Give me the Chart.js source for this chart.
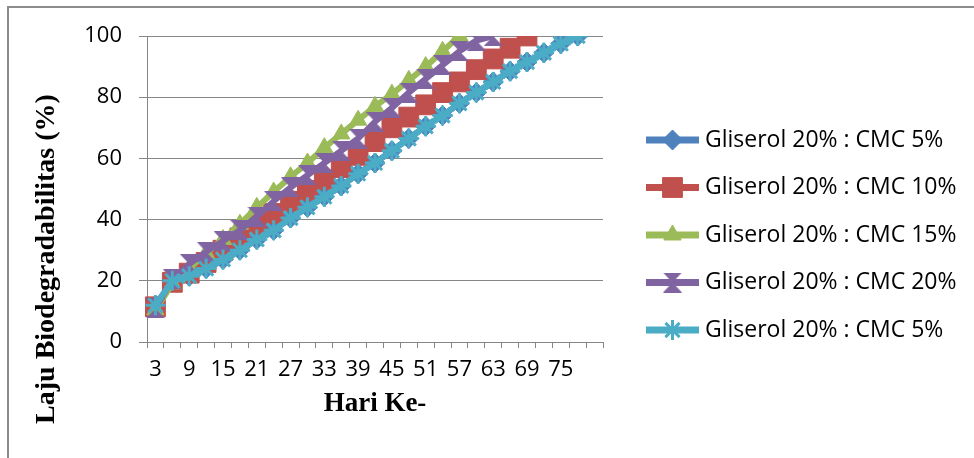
<!DOCTYPE html>
<html>
<head>
<meta charset="utf-8">
<script src="https://cdn.jsdelivr.net/npm/chart.js"></script>
<style>
  html, body { margin: 0; padding: 0; background: #fff; }
  #wrap { position: relative; width: 974px; height: 458px; }
</style>
</head>
<body>
<div id="wrap"><canvas id="c" width="974" height="458"></canvas></div>
<script>
// ---- data ----
const days = [3, 6, 9, 12, 15, 18, 21, 24, 27, 30, 33, 36, 39, 42, 45, 48, 51, 54, 57, 60, 63, 66, 69, 72, 75, 78, ''];
const tickLabelsShown = ['3', '9', '15', '21', '27', '33', '39', '45', '51', '57', '63', '69', '75'];
const seriesNames = [
  'Gliserol 20% : CMC 5%',
  'Gliserol 20% : CMC 10%',
  'Gliserol 20% : CMC 15%',
  'Gliserol 20% : CMC 20%',
  'Gliserol 20% : CMC 5%'
];
const cmc5a  = [12, 20, 21.5, 24, 27, 30, 33.5, 36.5, 40.5, 44, 47.5, 51, 55, 58.5, 62.5, 66.5, 70.5, 74, 78, 81.5, 85, 88.5, 91.5, 94.5, 97.5, 100];
const cmc10  = [11.5, 19.5, 22.5, 26, 30, 34, 38.5, 42, 46, 49.5, 53, 57, 61, 65.5, 70, 73.5, 77.5, 81.5, 85, 89, 92.5, 96, 100];
const cmc15  = [10.5, 19, 24, 29, 33.5, 38.5, 44, 49, 54, 58.5, 63.5, 68, 72.5, 77, 81, 85.5, 90, 95, 100];
const cmc20  = [11, 20.5, 25.5, 29.5, 33, 36.5, 41, 46, 50.5, 54.5, 58.5, 62.5, 66.5, 72, 76.5, 81.5, 86, 90.5, 95, 98.5, 100];
const cmc5b  = [12, 20, 21.5, 24, 27, 30, 33.5, 36.5, 40.5, 44, 47.5, 51, 55, 58.5, 62.5, 66.5, 70.5, 74, 78, 81.5, 85, 88.5, 91.5, 94.5, 97.5, 100];
const yTicks = [0, 20, 40, 60, 80, 100];

// ---- styles ----
const colors = ['#4F81BD', '#C0504D', '#9BBB59', '#8064A2', '#4BACC6'];

function hourglass(color, w, h) {
  const c = document.createElement('canvas');
  c.width = w; c.height = h;
  const g = c.getContext('2d');
  g.fillStyle = color;
  g.beginPath();
  g.moveTo(0, 0); g.lineTo(w, 0); g.lineTo(w / 2, h / 2); g.closePath();
  g.moveTo(0, h); g.lineTo(w, h); g.lineTo(w / 2, h / 2); g.closePath();
  g.fill();
  return c;
}
const purpleMarker = hourglass(colors[3], 19, 20);

const pointStyles = ['rectRot', 'rect', 'triangle', purpleMarker, 'star'];
const pointRadii = [10, 14, 10, 10, 10];
const pointBorders = [1, 1, 1, 1, 3];
const seriesData = [cmc5a, cmc10, cmc15, cmc20, cmc5b];

const datasets = seriesData.map((d, i) => ({
  label: seriesNames[i],
  data: d,
  borderColor: colors[i],
  backgroundColor: colors[i],
  borderWidth: 6,
  pointStyle: pointStyles[i],
  pointRadius: pointRadii[i],
  pointBorderWidth: pointBorders[i],
  pointBackgroundColor: colors[i],
  pointBorderColor: colors[i],
  tension: 0,
  order: 4 - i
}));

const GRID = '#868686';
const TICK_FONT = { family: "'Open Sans', sans-serif", size: 22 };

const framePlugin = {
  id: 'frame',
  beforeDraw(chart) {
    const ctx = chart.ctx;
    ctx.save();
    ctx.strokeStyle = '#8c8c8c';
    ctx.lineWidth = 2;
    ctx.beginPath();
    ctx.moveTo(8, 470); ctx.lineTo(8, 7); ctx.lineTo(990, 7);
    ctx.stroke();
    ctx.restore();
  }
};

const yTitlePlugin = {
  id: 'ytitle',
  afterDraw(chart) {
    const ctx = chart.ctx;
    ctx.save();
    ctx.translate(47, 259);
    ctx.rotate(-Math.PI / 2);
    ctx.font = "bold 28px 'Liberation Serif', 'Times New Roman', serif";
    ctx.fillStyle = '#000';
    ctx.textAlign = 'center';
    ctx.textBaseline = 'middle';
    ctx.fillText('Laju Biodegradabilitas (%)', 0, 0);
    ctx.restore();
  }
};

const legendPlugin = {
  id: 'customLegend',
  afterDraw(chart) {
    const ctx = chart.ctx;
    const x0 = 646, x1 = 699, tx = 705;
    const y0 = 140, step = 47.5;
    chart.data.datasets.forEach((ds, i) => {
      const y = y0 + i * step;
      ctx.save();
      ctx.strokeStyle = ds.borderColor;
      ctx.lineWidth = 7;
      ctx.beginPath();
      ctx.moveTo(x0, y); ctx.lineTo(x1, y);
      ctx.stroke();
      ctx.fillStyle = ds.pointBackgroundColor;
      ctx.strokeStyle = ds.pointBorderColor;
      ctx.lineWidth = ds.pointBorderWidth;
      Chart.helpers.drawPoint(ctx, {
        pointStyle: ds.pointStyle,
        radius: ds.pointRadius,
        borderWidth: ds.pointBorderWidth,
        rotation: 0
      }, (x0 + x1) / 2, y);
      ctx.fillStyle = '#000';
      ctx.font = "23px 'Open Sans', sans-serif";
      ctx.textAlign = 'left';
      ctx.textBaseline = 'middle';
      ctx.fillText(ds.label, tx, y);
      ctx.restore();
    });
  }
};

new Chart(document.getElementById('c'), {
  type: 'line',
  data: { labels: days, datasets: datasets },
  options: {
    responsive: false,
    animation: false,
    devicePixelRatio: 1,
    layout: { padding: { left: 0, top: 36, right: 371, bottom: 0 } },
    plugins: { legend: { display: false }, tooltip: { enabled: false } },
    scales: {
      x: {
        type: 'category',
        offset: true,
        grid: { drawOnChartArea: false, drawTicks: true, tickLength: 6, offset: true, color: GRID, lineWidth: 1 },
        border: { display: true, color: GRID, width: 1 },
        ticks: {
          autoSkip: false,
          maxRotation: 0,
          padding: 9,
          color: '#000',
          font: TICK_FONT,
          callback: function (v, i) {
            const lab = String(days[i]);
            return tickLabelsShown.includes(lab) ? lab : '';
          }
        },
        title: {
          display: true,
          text: 'Hari Ke-',
          color: '#000',
          font: { family: "'Liberation Serif', 'Times New Roman', serif", size: 27, weight: 'bold' },
          padding: { top: 0, bottom: 38 }
        },
        afterFit: s => { s.height = 116; }
      },
      y: {
        min: 0,
        max: 100,
        afterBuildTicks: s => { s.ticks = yTicks.map(v => ({ value: v })); },
        grid: { color: GRID, lineWidth: 1, drawTicks: true, tickLength: 8 },
        border: { display: true, color: GRID, width: 1 },
        ticks: { color: '#000', font: TICK_FONT, padding: 17 },
        afterFit: s => { s.width = 147; }
      }
    }
  },
  plugins: [framePlugin, yTitlePlugin, legendPlugin]
});
</script>
</body>
</html>
